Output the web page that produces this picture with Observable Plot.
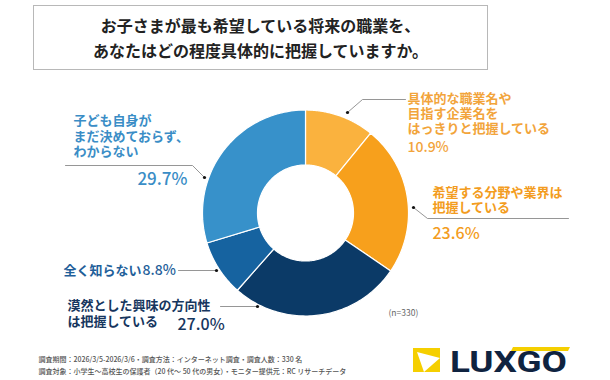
<!DOCTYPE html>
<html><head><meta charset="utf-8">
<script src="https://cdn.jsdelivr.net/npm/d3@7"></script>
<script src="https://cdn.jsdelivr.net/npm/@observablehq/plot@0.6"></script>
<style>
html,body{margin:0;padding:0;background:#fff;}
#wrap{position:relative;width:610px;height:380px;overflow:hidden;font-family:"Noto Sans CJK JP","Noto Sans",sans-serif;}
#chart{position:absolute;left:0;top:0;}
#title{position:absolute;left:33px;top:5px;width:455px;height:65px;border:1px solid #b8b8b8;box-sizing:border-box;
 display:flex;flex-direction:column;justify-content:center;align-items:center;font-weight:700;font-size:16px;line-height:25px;color:#222;}
#logo{position:absolute;left:410px;top:340px;overflow:visible;}
</style></head>
<body><div id="wrap">
<div id="chart"></div>
<div id="title"><div>お子さまが最も希望している将来の職業を、</div><div>あなたはどの程度具体的に把握していますか。</div></div>
<svg id="logo" width="170" height="38" viewBox="0 0 170 38">
  <polygon points="103,7 160,7 158,11 101,11" fill="#f5cf00"/>
  <rect x="3" y="8" width="27" height="24" fill="#f5cf00"/>
  <polygon points="7,12 30,18 14,32" fill="#fff"/>
  <text x="40" y="32" font-family="Roboto, 'Liberation Sans', sans-serif" font-weight="700" font-size="30" fill="#0f2340" textLength="117" lengthAdjust="spacingAndGlyphs">LUXGO</text>
</svg>
</div>
<script>
// ---- data ----
const categories = [
  "具体的な職業名や目指す企業名をはっきりと把握している",
  "希望する分野や業界は把握している",
  "漠然とした興味の方向性は把握している",
  "全く知らない",
  "子ども自身がまだ決めておらず、わからない"
];
const values = [10.9, 23.6, 27.0, 8.8, 29.7];
const sliceColors = ["#fab23e", "#f7a01c", "#0b3a67", "#1663a0", "#3791ca"];
const textColors = ["#f2a43b", "#f39c20", "#16365e", "#1f5f9a", "#3a8dc6"];
const labelLines = [
  ["具体的な職業名や", "目指す企業名を", "はっきりと把握している"],
  ["希望する分野や業界は", "把握している"],
  ["漠然とした興味の方向性", "は把握している"],
  ["全く知らない"],
  ["子ども自身が", "まだ決めておらず、", "わからない"]
];
const pctLabels = values.map(v => v.toFixed(1) + "%");
const sampleNote = "(n=330)";
const footnotes = [
  "調査期間：2026/3/5-2026/3/6・調査方法：インターネット調査・調査人数：330 名",
  "調査対象：小学生～高校生の保護者（20 代～ 50 代の男女）・モニター提供元：RC リサーチデータ"
];

// ---- geometry (donut) ----
const cx = 305, cy = 212.5, R = 103, r0 = 48;
const pie = d3.pie().sort(null).value(d => d)(values);
const arcPts = [];
pie.forEach((p, i) => {
  const n = 80;
  for (let k = 0; k <= n; k++) {
    const a = p.startAngle + (p.endAngle - p.startAngle) * k / n;
    arcPts.push({name: categories[i], x: cx + R * Math.sin(a), y: cy - R * Math.cos(a)});
  }
  for (let k = n; k >= 0; k--) {
    const a = p.startAngle + (p.endAngle - p.startAngle) * k / n;
    arcPts.push({name: categories[i], x: cx + r0 * Math.sin(a), y: cy - r0 * Math.cos(a)});
  }
});

// label layout
const labelPos = [
  {x: 407, y0: 98, dy: 15, px: 407, py: 147, ps: 14, pa: "start"},
  {x: 432, y0: 192, dy: 15, px: 432, py: 233, ps: 16, pa: "start"},
  {x: 67, y0: 304, dy: 16, px: 177, py: 324, ps: 16, pa: "start"},
  {x: 63, y0: 270, dy: 15, px: 142, py: 270, ps: 14, pa: "start"},
  {x: 73, y0: 120, dy: 15.5, px: 187, py: 179, ps: 17, pa: "end"}
];
const blockTexts = labelLines.map((ls, i) => ({
  t: ls.join("\n"), i, x: labelPos[i].x,
  y: labelPos[i].y0 + (ls.length - 1) * labelPos[i].dy / 2,
  lh: labelPos[i].dy / 13
}));
const pctTexts = pctLabels.map((t, i) => ({t, i, ...labelPos[i]}));

const leaders = [
  [[347,112],[362,99],[405,99]],
  [[413,207],[427,218],[568,218]],
  [[257,306],[220,306]],
  [[216,270],[178,270]],
  [[204,177],[192,165],[65,165]]
];
const leaderPts = leaders.flatMap((l, i) => l.map(([x, y]) => ({i, x, y})));
const leaderDots = leaders.map((l, i) => ({i, x: l[0][0], y: l[0][1]}));

const textMarks = blockTexts.map(d => Plot.text([d], {x: "x", y: "y", text: "t", fill: textColors[d.i], textAnchor: "start", fontSize: 13, fontWeight: 700, lineAnchor: "middle", lineHeight: d.lh}));

const plot = Plot.plot({
  width: 610, height: 380, margin: 0,
  x: {domain: [0, 610], range: [0, 610], axis: null},
  y: {domain: [0, 380], range: [0, 380], axis: null},
  color: {domain: categories, range: sliceColors},
  style: {fontFamily: '"Noto Sans CJK JP","Noto Sans",sans-serif', background: "transparent"},
  marks: [
    Plot.line(arcPts, {x: "x", y: "y", z: "name", fill: "name", stroke: "#fff", strokeWidth: 1.2, curve: "linear-closed"}),
    Plot.line(leaderPts, {x: "x", y: "y", z: "i", stroke: "#8a8a8a", strokeWidth: 0.9}),
    Plot.dot(leaderDots, {x: "x", y: "y", r: 1.6, fill: "#111"}),
    ...textMarks,
    Plot.text(pctTexts.filter(d => d.pa === "start"), {x: "px", y: "py", text: "t", fill: d => textColors[d.i], textAnchor: "start", fontSize: d => d.ps, fontWeight: 500, lineAnchor: "middle"}),
    Plot.text(pctTexts.filter(d => d.pa === "end"), {x: "px", y: "py", text: "t", fill: d => textColors[d.i], textAnchor: "end", fontSize: d => d.ps, fontWeight: 500, lineAnchor: "middle"}),
    Plot.text([sampleNote], {x: () => 388, y: () => 313, text: d => d, fontSize: 8.5, fill: "#666", textAnchor: "start", lineAnchor: "middle"}),
    Plot.text(footnotes, {x: () => 38, y: (d, i) => 359 + i * 12, text: d => d, fontSize: 7, fill: "#555", fontWeight: 500, textAnchor: "start", lineAnchor: "middle"})
  ]
});
document.getElementById("chart").appendChild(plot);
</script>
</body></html>
